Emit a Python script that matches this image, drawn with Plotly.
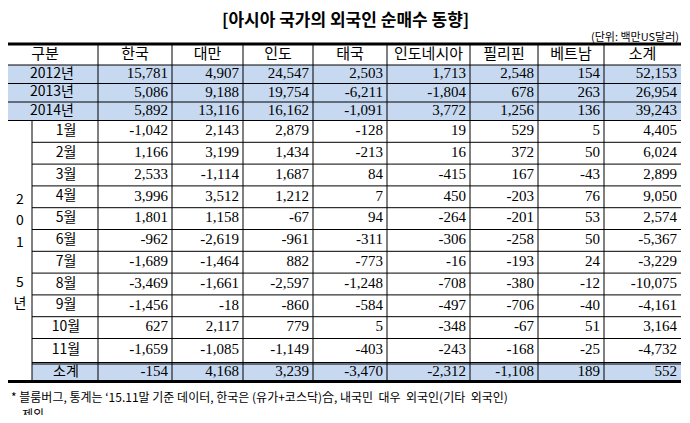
import plotly.graph_objects as go

title = "[아시아 국가의 외국인 순매수 동향]"
unit = "(단위: 백만US달러)"
note1 = "* 블룸버그, 통계는 ‘15.11말 기준 데이터, 한국은 (유가+코스닥)合, 내국민  대우  외국인(기타  외국인)"
note2 = "제외"

columns = ["구분", "한국", "대만", "인도", "태국", "인도네시아", "필리핀", "베트남", "소계"]
row_labels = ["2012년", "2013년", "2014년", "1월", "2월", "3월", "4월", "5월", "6월",
              "7월", "8월", "9월", "10월", "11월", "소계"]
korea = [15781, 5086, 5892, -1042, 1166, 2533, 3996, 1801, -962, -1689, -3469, -1456, 627, -1659, -154]
taiwan = [4907, 9188, 13116, 2143, 3199, -1114, 3512, 1158, -2619, -1464, -1661, -18, 2117, -1085, 4168]
india = [24547, 19754, 16162, 2879, 1434, 1687, 1212, -67, -961, 882, -2597, -860, 779, -1149, 3239]
thailand = [2503, -6211, -1091, -128, -213, 84, 7, 94, -311, -773, -1248, -584, 5, -403, -3470]
indonesia = [1713, -1804, 3772, 19, 16, -415, 450, -264, -306, -16, -708, -497, -348, -243, -2312]
philippines = [2548, 678, 1256, 529, 372, 167, -203, -201, -258, -193, -380, -706, -67, -168, -1108]
vietnam = [154, 263, 136, 5, 50, -43, 76, 53, 50, 24, -12, -40, 51, -25, 189]
total = [52153, 26954, 39243, 4405, 6024, 2899, 9050, 2574, -5367, -3229, -10075, -4161, 3164, -4732, 552]
year_label = ["2", "0", "1", "5", "년"]

series = [korea, taiwan, india, thailand, indonesia, philippines, vietnam, total]

# layout geometry in page pixels (page has an 8px body margin)
col_edges = [8, 98, 172, 243, 313, 387, 470, 538, 604, 681]
sub_edge = 32
head_top, head_bot = 44, 65
row_tops = [65, 83.5, 102] + [120.5 + 21.8 * i for i in range(11)] + [362.5]
row_bots = row_tops[1:] + [381.5]
blue = "#C6D9F1"
num_font = dict(family="Liberation Serif, Noto Sans CJK KR", size=15, color="black")
kr_font = dict(family="Noto Sans CJK KR", size=14, color="black")

shapes = []
def line(x0, y0, x1, y1, w=1):
    shapes.append(dict(type="line", x0=x0, y0=y0, x1=x1, y1=y1, line=dict(color="black", width=w)))

for i in list(range(3)) + [14]:
    x0 = col_edges[0] if i < 3 else sub_edge
    shapes.append(dict(type="rect", x0=x0, x1=col_edges[-1], y0=row_tops[i], y1=row_bots[i],
                       fillcolor=blue, line=dict(width=0), layer="below"))

line(col_edges[0], head_top, col_edges[-1], head_top, 3)
line(col_edges[0], head_bot, col_edges[-1], head_bot, 1)
for i in range(15):
    x0 = col_edges[0] if i < 3 else sub_edge
    line(x0, row_bots[i], col_edges[-1], row_bots[i], 1)
line(sub_edge, row_bots[13] + 1.5, col_edges[-1], row_bots[13] + 1.5, 1)
line(col_edges[0], row_bots[14], col_edges[-1], row_bots[14], 3)
for x in col_edges[1:-1]:
    line(x, head_top, x, row_bots[14], 1)
line(sub_edge, row_tops[3], sub_edge, row_bots[14], 1)

fig = go.Figure()
hx = [(col_edges[i] + col_edges[i + 1]) / 2 for i in range(9)]
hx[0] = 45
fig.add_trace(go.Scatter(x=hx, y=[55] * 9, text=columns, mode="text",
                         textfont=dict(family="Noto Sans CJK KR", size=15, color="black")))
ymid = [(a + b) / 2 for a, b in zip(row_tops, row_bots)]
lx = [52] * 3 + [66] * 11 + [66]
fig.add_trace(go.Scatter(x=lx, y=ymid, text=row_labels, mode="text", textfont=kr_font))
fig.add_trace(go.Scatter(x=[20] * 5, y=[200, 221, 243, 283, 304], text=year_label,
                         mode="text", textfont=kr_font))
for j, vals in enumerate(series):
    fig.add_trace(go.Scatter(x=[col_edges[j + 2] - 4] * len(vals), y=ymid,
                             text=[f"{v:,}" for v in vals], mode="text",
                             textposition="middle left", textfont=num_font))

fig.add_annotation(x=345, y=18, text="<b>" + title + "</b>", showarrow=False,
                   font=dict(family="Noto Sans CJK KR", size=17, color="black"))
fig.add_annotation(x=681, y=36, text=unit, showarrow=False, xanchor="right",
                   font=dict(family="Noto Sans CJK KR", size=11, color="black"))
fig.add_annotation(x=9, y=396, text=note1, showarrow=False, xanchor="left",
                   font=dict(family="Noto Sans CJK KR", size=12, color="black"))
fig.add_annotation(x=20, y=413, text=note2, showarrow=False, xanchor="left",
                   font=dict(family="Noto Sans CJK KR", size=12, color="black"))

fig.update_layout(width=674, height=407, margin=dict(l=0, r=0, t=0, b=0),
                  plot_bgcolor="white", paper_bgcolor="white", showlegend=False,
                  shapes=shapes,
                  xaxis=dict(range=[8, 682], visible=False, fixedrange=True),
                  yaxis=dict(range=[415, 8], visible=False, fixedrange=True))
fig.write_html("out.html")
